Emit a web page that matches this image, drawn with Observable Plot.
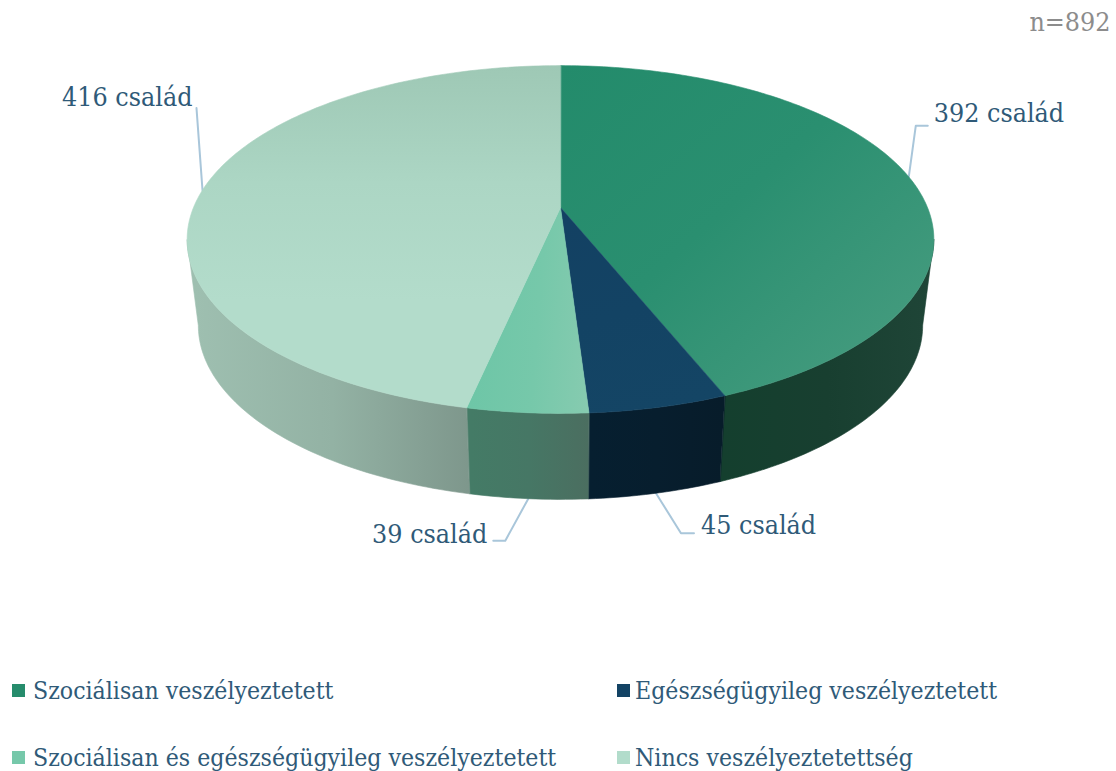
<!DOCTYPE html>
<html><head><meta charset="utf-8">
<script src="https://cdn.jsdelivr.net/npm/d3@7"></script>
<script src="https://cdn.jsdelivr.net/npm/@observablehq/plot@0.6"></script>
<style>
html,body{margin:0;padding:0;background:#fff;}
#wrap{width:1116px;height:771px;position:relative;overflow:hidden;font-family:"DejaVu Serif Condensed","DejaVu Serif",serif;}
#legend{position:absolute;left:0;top:640px;width:1116px;height:131px;}
.item{position:absolute;display:flex;align-items:center;font-size:24.6px;color:#2f5a78;white-space:nowrap;height:30px;}
.sw{width:13px;height:13px;flex:none;}
svg text{font-family:"DejaVu Serif Condensed","DejaVu Serif",serif;}
</style></head><body>
<div id="wrap"><div id="chart"></div><div id="legend"></div></div>
<script>
const categories=["Szociálisan veszélyeztetett","Egészségügyileg veszélyeztetett","Szociálisan és egészségügyileg veszélyeztetett","Nincs veszélyeztetettség"];
const values=[392,45,39,416];
const unit="család";
const sampleSize="n=892";
const swatchColors=["#268c6c","#134364","#76c8aa","#b2dccb"];

const W=1116,H=640;
const total=d3.sum(values);
// perspective projection of the pie's disc
const cx=560,yTop=207,yBottom=293,A=367,B=168,k=0.184,shrink=0.97;
const top3=t=>{const u=Math.sin(t),v=-Math.cos(t),w=1-k*v;return [cx+A*u/w,yTop+B*v/w];};
const bot3=t=>{const u=Math.sin(t),v=-Math.cos(t),w=1-k*v;return [cx+shrink*A*u/w,yBottom+B*v/w];};
const rad=d=>d*Math.PI/180;
let c=0;
const slices=values.map((v,i)=>{const a0=c/total*2*Math.PI;c+=v;const a1=c/total*2*Math.PI;return {i,v,a0,a1,mid:(a0+a1)/2};});
const arc=(a0,a1,f)=>{const n=Math.max(2,Math.ceil((a1-a0)/rad(1)));return d3.range(n+1).map(j=>f(a0+(a1-a0)*j/n));};
const topPts=slices.flatMap(s=>[[cx,yTop],...arc(s.a0,s.a1,top3)].map(p=>({x:p[0],y:p[1],id:s.i})));
const wallFrom=rad(100.6),wallTo=rad(259.4);
const wallPts=slices.flatMap(s=>{
  const a0=Math.max(s.a0,wallFrom),a1=Math.min(s.a1,wallTo);
  return [...arc(a0,a1,top3),...arc(a0,a1,bot3).reverse()].map(p=>({x:p[0],y:p[1],id:s.i}));
});
// gradients: [x1,y1,x2,y2, stops]
const topGrad=[[560,65,850,390,["#238b6b","#2a8f70","#449b7e"]],
               [600,210,660,410,["#134163","#134364","#144565"]],
               [470,400,590,410,["#6ec6a7","#76c8aa","#87cbb0"]],
               [400,65,400,300,["#9ec8b5","#acd6c4","#b3dccb"]]];
const wallGrad=[[723,0,930,0,["#143f2e","#183f30","#1f4537"]],
                [590,0,722,0,["#061f30","#071e2e","#071c2a"]],
                [470,0,588,0,["#447b66","#467765","#4b6e60"]],
                [195,0,468,0,["#9ebfb0","#93b2a4","#7e978c"]]];
const defs=()=>{
  const el=d3.create("svg:defs");
  const add=(id,g)=>{const lg=el.append("linearGradient").attr("id",id).attr("gradientUnits","userSpaceOnUse")
     .attr("x1",g[0]).attr("y1",g[1]).attr("x2",g[2]).attr("y2",g[3]);
     g[4].forEach((col,j)=>lg.append("stop").attr("offset",j/(g[4].length-1)).attr("stop-color",col));};
  topGrad.forEach((g,i)=>add("top"+i,g));
  wallGrad.forEach((g,i)=>add("wall"+i,g));
  return el.node();
};
// leader geometry: relative to slice anchor on the rim
const leaderBends=[[[7,-51],[19,-51]],[[25,40],[38,40]],[[-23,42],[-35,42]],[[-6,-82]]];
const anchors=[top3,bot3,bot3,top3];
const textOffsets=[[6,-12],[7,-8],[-6,-6],[-4,-11]];
const textAnchors=["start","start","end","end"];
const leaderPts=slices.flatMap(s=>{
  const p=anchors[s.i](s.mid);
  return [p,...leaderBends[s.i].map(b=>[p[0]+b[0],p[1]+b[1]])].map(q=>({x:q[0],y:q[1],id:s.i}));
});
const labels=slices.map(s=>{
  const p=anchors[s.i](s.mid),b=leaderBends[s.i][leaderBends[s.i].length-1],o=textOffsets[s.i];
  return {x:p[0]+b[0]+o[0],y:p[1]+b[1]+o[1],text:`${s.v} ${unit}`,anchor:textAnchors[s.i]};
});
const chart=Plot.plot({
  width:W,height:H,margin:0,
  x:{domain:[0,W],range:[0,W],axis:null},
  y:{domain:[0,H],range:[0,H],axis:null},
  style:{background:"transparent"},
  marks:[
    defs,
    Plot.line(leaderPts,{x:"x",y:"y",z:"id",stroke:"#a9c6da",strokeWidth:2,curve:"linear"}),
    ...slices.map(s=>{const f=`url(#wall${s.i})`;return Plot.line(wallPts.filter(d=>d.id===s.i),{x:"x",y:"y",fill:f,stroke:f,strokeWidth:0.6,curve:"linear-closed"});}),
    ...slices.map(s=>{const f=`url(#top${s.i})`;return Plot.line(topPts.filter(d=>d.id===s.i),{x:"x",y:"y",fill:f,stroke:f,strokeWidth:0.6,curve:"linear-closed"});}),
    ...labels.map(l=>Plot.text([l],{x:"x",y:"y",text:"text",textAnchor:l.anchor,fill:"#2f5a78",fontSize:26.6})),
    Plot.text([sampleSize],{x:[1110],y:[22],text:d=>d,textAnchor:"end",fill:"#8c8c8c",fontSize:26.6})
  ]
});
document.getElementById("chart").appendChild(chart);
const leg=d3.select("#legend");
const legX=[12,617],legY=[35,102],legGap=[8,5];
categories.forEach((name,i)=>{
  const it=leg.append("div").attr("class","item").style("left",legX[i%2]+"px").style("top",legY[Math.floor(i/2)]+"px");
  it.append("div").attr("class","sw").style("background",swatchColors[i]).style("margin-right",legGap[i%2]+"px");
  it.append("span").text(name);
});
</script></body></html>
